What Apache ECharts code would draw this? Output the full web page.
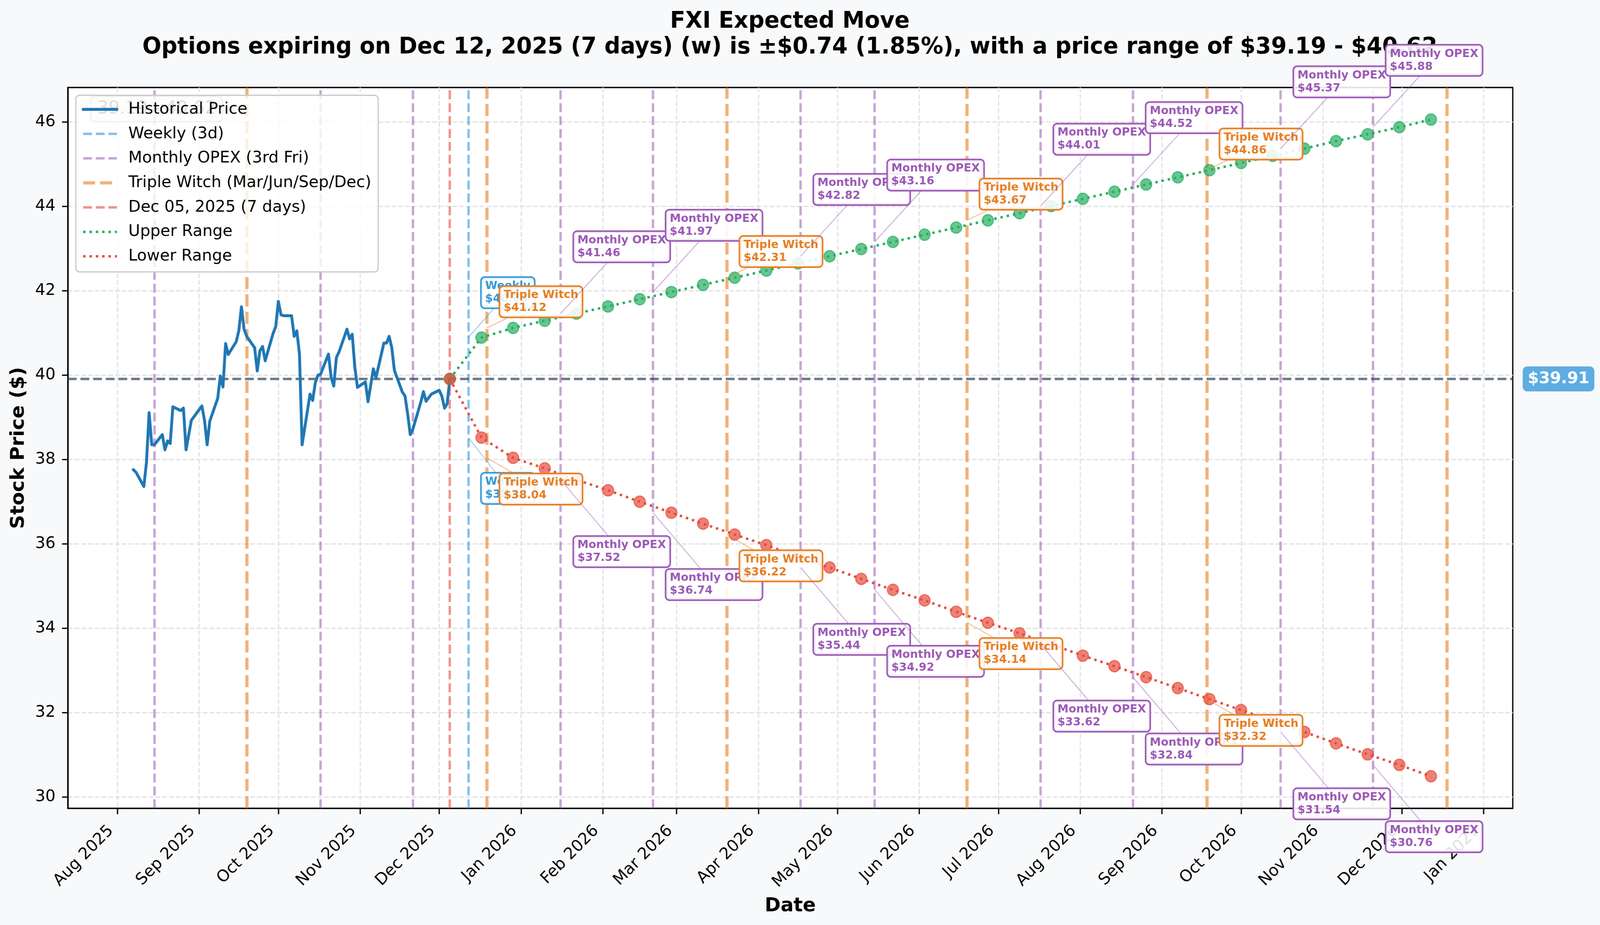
<!DOCTYPE html>
<html>
<head>
<meta charset="utf-8">
<script src="https://cdn.jsdelivr.net/npm/echarts@6/dist/echarts.min.js"></script>
<style>
html,body{margin:0;padding:0;background:#f8f9fa;overflow:hidden;}
#c{width:4173px;height:2368px;transform-origin:0 0;}
</style>
</head>
<body>
<div id="c"></div>
<script>
// ---------------- DATA ----------------
const titleLine1 = 'FXI Expected Move';
const titleLine2 = 'Options expiring on Dec 12, 2025 (7 days) (w) is \u00b1$0.74 (1.85%), with a price range of $39.19 - $40.62';
const rangeBoxText = '39.19 - 40.62';

const histDates = ['2025-08-07','2025-08-08','2025-08-11','2025-08-12','2025-08-13','2025-08-14','2025-08-15','2025-08-18','2025-08-19','2025-08-20','2025-08-21','2025-08-22','2025-08-25','2025-08-26','2025-08-27','2025-08-28','2025-08-29',
'2025-09-02','2025-09-03','2025-09-04','2025-09-05','2025-09-08','2025-09-09','2025-09-10','2025-09-11','2025-09-12','2025-09-15','2025-09-16','2025-09-17','2025-09-18','2025-09-19','2025-09-22','2025-09-23','2025-09-24','2025-09-25','2025-09-26','2025-09-29','2025-09-30',
'2025-10-01','2025-10-02','2025-10-03','2025-10-06','2025-10-07','2025-10-08','2025-10-09','2025-10-10','2025-10-13','2025-10-14','2025-10-15','2025-10-16','2025-10-17','2025-10-20','2025-10-21','2025-10-22','2025-10-23','2025-10-24','2025-10-27','2025-10-28','2025-10-29','2025-10-30','2025-10-31',
'2025-11-03','2025-11-04','2025-11-05','2025-11-06','2025-11-07','2025-11-10','2025-11-11','2025-11-12','2025-11-13','2025-11-14','2025-11-17','2025-11-18','2025-11-19','2025-11-20','2025-11-21','2025-11-24','2025-11-25','2025-11-26','2025-11-28',
'2025-12-01','2025-12-02','2025-12-03','2025-12-04','2025-12-05'];
const histPrices = [37.76,37.70,37.36,37.94,39.11,38.35,38.35,38.59,38.23,38.44,38.38,39.25,39.16,39.22,38.23,38.58,38.93,
39.27,38.93,38.35,38.91,39.45,39.98,39.72,40.75,40.49,40.79,41.05,41.62,41.09,40.92,40.65,40.10,40.58,40.68,40.34,40.99,41.15,
41.75,41.43,41.41,41.41,40.92,41.05,40.50,38.35,39.55,39.40,39.82,40.00,40.02,40.50,39.95,39.74,40.42,40.55,41.09,40.86,40.97,40.18,39.71,
39.84,39.37,39.76,40.15,39.94,40.76,40.76,40.92,40.65,40.11,39.60,39.51,39.09,38.59,38.72,39.36,39.61,39.38,39.55,
39.64,39.50,39.22,39.32,39.91];

const currentDate = '2025-12-05';
const currentPrice = 39.91;

const forecastDates = ['2025-12-17','2025-12-29','2026-01-10','2026-01-22','2026-02-03','2026-02-15','2026-02-27','2026-03-11','2026-03-23','2026-04-04','2026-04-16','2026-04-28','2026-05-10','2026-05-22','2026-06-03','2026-06-15','2026-06-27','2026-07-09','2026-07-21','2026-08-02','2026-08-14','2026-08-26','2026-09-07','2026-09-19','2026-10-01','2026-10-13','2026-10-25','2026-11-06','2026-11-18','2026-11-30','2026-12-12'];
const upperRange = [40.89,41.12,41.29,41.46,41.63,41.80,41.97,42.14,42.31,42.48,42.65,42.82,42.99,43.16,43.33,43.50,43.67,43.84,44.01,44.18,44.35,44.52,44.69,44.86,45.03,45.20,45.37,45.55,45.71,45.88,46.06];
const lowerRange = [38.52,38.04,37.79,37.52,37.27,37.00,36.74,36.48,36.22,35.97,35.70,35.44,35.17,34.91,34.66,34.39,34.13,33.88,33.62,33.35,33.10,32.84,32.58,32.32,32.06,31.80,31.54,31.27,31.01,30.76,30.49];

const weeklyDates = ['2025-12-12'];
const monthlyOpexDates = ['2025-08-15','2025-10-17','2025-11-21','2026-01-16','2026-02-20','2026-04-17','2026-05-15','2026-07-17','2026-08-21','2026-10-16','2026-11-20'];
const tripleWitchDates = ['2025-09-19','2025-12-19','2026-03-20','2026-06-19','2026-09-18','2026-12-18'];

const annoDates = ['2025-12-12','2025-12-19','2026-01-16','2026-02-20','2026-03-20','2026-04-17','2026-05-15','2026-06-19','2026-07-17','2026-08-21','2026-09-18','2026-10-16','2026-11-20'];
const annoTypes = ['Weekly','Triple Witch','Monthly OPEX','Monthly OPEX','Triple Witch','Monthly OPEX','Monthly OPEX','Triple Witch','Monthly OPEX','Monthly OPEX','Triple Witch','Monthly OPEX','Monthly OPEX'];
const annoUpper = [40.89,41.12,41.46,41.97,42.31,42.82,43.16,43.67,44.01,44.52,44.86,45.37,45.88];
const annoLower = [38.52,38.04,37.52,36.74,36.22,35.44,34.92,34.14,33.62,32.84,32.32,31.54,30.76];

const monthTicks = ['2025-08-01','2025-09-01','2025-10-01','2025-11-01','2025-12-01','2026-01-01','2026-02-01','2026-03-01','2026-04-01','2026-05-01','2026-06-01','2026-07-01','2026-08-01','2026-09-01','2026-10-01','2026-11-01','2026-12-01','2027-01-01'];
const monthNames = ['Jan','Feb','Mar','Apr','May','Jun','Jul','Aug','Sep','Oct','Nov','Dec'];
const yTicks = [30,32,34,36,38,40,42,44,46];

const legendNames = ['Historical Price','Weekly (3d)','Monthly OPEX (3rd Fri)','Triple Witch (Mar/Jun/Sep/Dec)','Dec 05, 2025 (7 days)','Upper Range','Lower Range'];

// ---------------- PAGE FIT ----------------
// The figure is laid out at 4173 px; if the window is narrower it is squeezed horizontally so nothing is cut off.
const FIG_W = 4173, FIG_H = 2368;
const viewW = window.innerWidth || FIG_W;
const kx = Math.min(1, viewW / FIG_W);
document.getElementById('c').style.transform = 'scaleX(' + kx + ')';

// ---------------- HELPERS ----------------
const FONT = 'DejaVu Sans';
function ts(s){ const p = s.split('-').map(Number); return Date.UTC(p[0], p[1]-1, p[2]); }
const xMin = Date.UTC(2025, 6, 13, 4);
const xMax = Date.UTC(2027, 0, 12, 0);
const yMin = 29.73, yMax = 46.82;

const dashThin = [23, 10];
const dashThick = [31, 13.3];
const dotPat = [6.25, 10.3];

function vlineSeries(name, dates, color, width, dash, opacity){
  return {
    name: name, type: 'line', data: [], symbol: 'none', z: 2,
    lineStyle: {color: color, width: width, type: dash, opacity: opacity},
    itemStyle: {color: color},
    markLine: {
      silent: true, animation: false, symbol: ['none','none'], z: 2,
      label: {show: false},
      emphasis: {disabled: true},
      lineStyle: {color: color, width: width, type: dash, opacity: opacity},
      data: dates.map(d => ({xAxis: ts(d)}))
    }
  };
}

const option = {
  animation: false,
  backgroundColor: '#f8f9fa',
  textStyle: {fontFamily: FONT},
  title: {
    text: titleLine1 + '\n' + titleLine2,
    left: 2060, top: 23, textAlign: 'center', padding: 0,
    textStyle: {fontFamily: FONT, fontSize: 58.3, fontWeight: 'bold', color: '#000', lineHeight: 66}
  },
  grid: {
    left: 176.8, right: 227.6, top: 224, bottom: 298.7,
    show: true, backgroundColor: '#ffffff', borderColor: '#000', borderWidth: 3.3,
    containLabel: false, outerBoundsMode: 'none'
  },
  legend: {
    orient: 'vertical', left: 197.7, top: 244,
    padding: [11, 18, 15, 15], itemGap: 12.7, itemWidth: 88, itemHeight: 24,
    backgroundColor: 'rgba(255,255,255,0.8)', borderColor: '#cccccc', borderWidth: 3.3, borderRadius: 10,
    textStyle: {fontFamily: FONT, fontSize: 41.7, color: '#000', lineHeight: 50, padding: [0,0,0,25]},
    itemStyle: {opacity: 0},
    lineStyle: {width: 'inherit', color: 'inherit', type: 'inherit', opacity: 'inherit'},
    selectedMode: false, z: 20,
    data: legendNames
  },
  xAxis: {
    type: 'value', min: xMin, max: xMax, scale: true,
    name: 'Date', nameLocation: 'middle', nameGap: 226,
    nameTextStyle: {fontFamily: FONT, fontSize: 50, fontWeight: 'bold', color: '#000'},
    axisLine: {show: true, lineStyle: {color: '#000', width: 3.3}},
    axisTick: {show: true, length: 15, lineStyle: {color: '#000', width: 3.3}, customValues: monthTicks.map(ts)},
    axisLabel: {
      customValues: monthTicks.map(ts), rotate: 45, margin: 34, padding: [0, 24, 0, 0],
      fontFamily: FONT, fontSize: 41.7, color: '#000',
      formatter: function(v){ const d = new Date(v); return monthNames[d.getUTCMonth()] + ' ' + d.getUTCFullYear(); }
    },
    splitLine: {show: true, lineStyle: {color: '#e3e3e3', width: 3.3, type: [12.3, 5.3]}}
  },
  yAxis: {
    type: 'value', min: yMin, max: yMax,
    name: 'Stock Price ($)', nameLocation: 'middle', nameGap: 103, nameRotate: 90,
    nameTextStyle: {fontFamily: FONT, fontSize: 50, fontWeight: 'bold', color: '#000'},
    axisLine: {show: true, lineStyle: {color: '#000', width: 3.3}},
    axisTick: {show: true, length: 15, lineStyle: {color: '#000', width: 3.3}, customValues: yTicks},
    axisLabel: {customValues: yTicks, margin: 32, fontFamily: FONT, fontSize: 41.7, color: '#000', formatter: v => String(Math.round(v))},
    splitLine: {show: true, lineStyle: {color: '#e3e3e3', width: 3.3, type: [12.3, 5.3]}}
  },
  series: [
    {
      name: 'Historical Price', type: 'line', z: 10,
      data: histDates.map((d, i) => [ts(d), histPrices[i]]),
      symbol: 'none', showSymbol: false,
      lineStyle: {color: '#1f77b4', width: 7.5, join: 'round', cap: 'round'},
      itemStyle: {color: '#1f77b4'},
      markLine: {
        silent: true, animation: false, symbol: ['none','none'], z: 3,
        label: {show: false}, emphasis: {disabled: true},
        lineStyle: {color: '#34495e', opacity: 0.72, width: 6.25, type: dashThin},
        data: [{yAxis: currentPrice}]
      }
    },
    vlineSeries('Weekly (3d)', weeklyDates, '#3498db', 6.25, dashThin, 0.6),
    vlineSeries('Monthly OPEX (3rd Fri)', monthlyOpexDates, '#9b59b6', 6.25, dashThin, 0.55),
    vlineSeries('Triple Witch (Mar/Jun/Sep/Dec)', tripleWitchDates, '#e67e22', 8.33, dashThick, 0.6),
    vlineSeries('Dec 05, 2025 (7 days)', [currentDate], '#e74c3c', 6.25, dashThin, 0.6),
    {
      name: 'Upper Range', type: 'line', z: 11,
      data: [[ts(currentDate), currentPrice]].concat(forecastDates.map((d, i) => [ts(d), upperRange[i]])),
      symbol: 'circle', symbolSize: 29, showSymbol: true, showAllSymbol: true,
      lineStyle: {color: '#27ae60', width: 6.25, type: dotPat},
      itemStyle: {color: '#27ae60', borderColor: '#27ae60', borderWidth: 3, opacity: 0.7}
    },
    {
      name: 'Lower Range', type: 'line', z: 12,
      data: [[ts(currentDate), currentPrice]].concat(forecastDates.map((d, i) => [ts(d), lowerRange[i]])),
      symbol: 'circle', symbolSize: 29, showSymbol: true, showAllSymbol: true,
      lineStyle: {color: '#e74c3c', width: 6.25, type: dotPat},
      itemStyle: {color: '#e74c3c', borderColor: '#e74c3c', borderWidth: 3, opacity: 0.7}
    }
  ]
};

const chart = echarts.init(document.getElementById('c'), null, {width: FIG_W, height: FIG_H, devicePixelRatio: 1});
chart.setOption(option);

// ---------------- ANNOTATIONS (positioned through the chart's own scales) ----------------
const measureCtx = document.createElement('canvas').getContext('2d');
function textWidth(txt, font){
  measureCtx.font = font;
  return Math.max.apply(null, txt.split('\n').map(t => measureCtx.measureText(t).width));
}
function px(dateStr, v){ return chart.convertToPixel({xAxisIndex: 0, yAxisIndex: 0}, [ts(dateStr), v]); }

const ANNO = {
  'Weekly':       {color: '#3498db', up: 75,  down: 90},
  'Monthly OPEX': {color: '#9b59b6', up: 131, down: 144},
  'Triple Witch': {color: '#e67e22', up: 27,  down: 40}
};
const AFS = 29, ALH = 33, PADX = 9, PADY = 5, ABW = 4;
const annoFont = 'bold ' + AFS + 'px "' + FONT + '"';

const graphics = [];
let zc = 100;
annoDates.forEach((d, i) => {
  const type = annoTypes[i];
  const st = ANNO[type];
  [['up', annoUpper[i]], ['down', annoLower[i]]].forEach(pair => {
    const dir = pair[0], v = pair[1];
    const p = px(d, v);
    const txt = type + '\n$' + v.toFixed(2);
    const w = textWidth(txt, annoFont) + 2 * PADX;
    const h = 2 * ALH + 2 * PADY;
    const bx = p[0] + 33 + ABW / 2;
    const by = dir === 'up' ? p[1] - st.up - ABW / 2 - h : p[1] + st.down + ABW / 2;
    graphics.push({
      type: 'line', silent: true, z: zc++,
      shape: {x1: bx + w / 2, y1: by + h / 2, x2: p[0], y2: p[1]},
      style: {stroke: st.color, opacity: 0.55, lineWidth: 2.1}
    });
    graphics.push({
      type: 'text', silent: true, z: zc++, x: bx, y: by,
      style: {
        text: txt, fill: st.color, fontSize: AFS, fontWeight: 'bold', fontFamily: FONT, lineHeight: ALH,
        backgroundColor: 'rgba(255,255,255,0.88)', borderColor: st.color, borderWidth: ABW, borderRadius: 8,
        padding: [PADY, PADX], align: 'left', verticalAlign: 'top'
      }
    });
  });
});

// current price tag on the right
const pp = px(currentDate, currentPrice);
const rightEdge = chart.convertToPixel({xAxisIndex: 0}, xMax);
graphics.push({
  type: 'text', silent: true, z: 100, x: rightEdge + 26, y: pp[1],
  style: {
    text: '$' + currentPrice.toFixed(2), fill: '#ffffff', fontSize: 41.7, fontWeight: 'bold', fontFamily: FONT,
    backgroundColor: '#5dade2', padding: [11, 13], borderRadius: 12, align: 'left', verticalAlign: 'middle'
  }
});

// faint range box sitting underneath the legend
const tl = chart.convertToPixel({xAxisIndex: 0, yAxisIndex: 0}, [xMin, yMax]);
graphics.push({
  type: 'text', silent: true, z: 1, x: tl[0] + 61, y: tl[1] + 24,
  style: {
    text: rangeBoxText, fill: '#555555', fontSize: 46, fontFamily: FONT,
    backgroundColor: 'rgba(250,244,232,0.9)', borderColor: '#bbbbbb', borderWidth: 3, borderRadius: 10,
    padding: [8, 16], align: 'left', verticalAlign: 'top'
  }
});

chart.setOption({graphic: {elements: graphics}});
</script>
</body>
</html>
